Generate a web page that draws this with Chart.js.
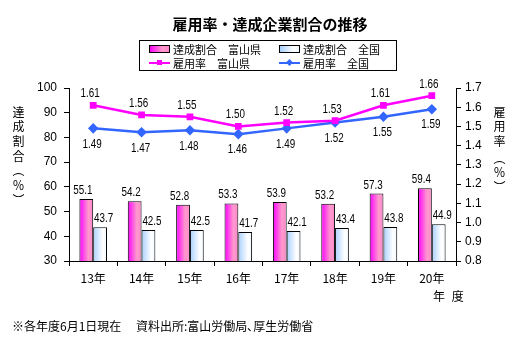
<!DOCTYPE html>
<html lang="ja">
<head>
<meta charset="utf-8">
<script src="https://cdn.jsdelivr.net/npm/chart.js@4"></script>
<style>
    body { margin: 0; background: #fff; }
    #wrap { position: relative; width: 520px; height: 350px; font-family: "Noto Sans CJK JP", sans-serif; color: #000; }
    #graph { position: absolute; left: 0; top: 0; }
    .txt { position: absolute; white-space: nowrap; line-height: 1; }
    #title { left: 0; width: 540px; top: 16px; text-align: center; font-size: 15px; font-weight: bold; }
    #legend { position: absolute; left: 139px; top: 40px; width: 256px; height: 29px; border: 1px solid #000; font-size: 11px; }
    .item { position: absolute; display: flex; align-items: center; height: 12px; }
    .box { width: 19px; height: 6px; border: 1px solid #000; margin-right: 3px; }
    .ln { position: relative; width: 21px; height: 12px; margin-right: 3px; }
    .ln i { position: absolute; left: 0; top: 5px; width: 21px; height: 2px; }
    .ln b { position: absolute; left: 8px; top: 3px; width: 5px; height: 5px; }
    .vt { writing-mode: vertical-rl; font-size: 12px; letter-spacing: 2.7px; }
</style>
</head>
<body>
<div id="wrap">
    <canvas id="graph" width="520" height="350"></canvas>
    <div class="txt" id="title">雇用率・達成企業割合の推移</div>
    <div id="legend">
        <div class="item" style="left:9px;top:2px"><div class="box" style="background:linear-gradient(90deg,#ff00ff,#ff99cc 65%,#ff88cc)"></div>達成割合　富山県</div>
        <div class="item" style="left:139px;top:2px"><div class="box" style="background:linear-gradient(90deg,#a8d0ff,#ffffff 70%,#f0f8ff)"></div>達成割合　全国</div>
        <div class="item" style="left:9px;top:16px"><div class="ln"><i style="background:#ff00ff"></i><b style="background:#ff00ff"></b></div>雇用率　富山県</div>
        <div class="item" style="left:139px;top:16px"><div class="ln"><i style="background:#3366ff"></i><b style="background:#3366ff;transform:rotate(45deg)"></b></div>雇用率　全国</div>
    </div>
    <div class="txt vt" style="left:12px;top:106px">達成割合（％）</div>
    <div class="txt vt" style="left:493px;top:106px">雇用率<span style="margin-top:2px">（％）</span></div>
    <div class="txt" style="left:433px;top:290px;font-size:12px;word-spacing:4px">年 度</div>
    <div class="txt" style="left:12px;top:320px;font-size:12px">※各年度6月1日現在　 資料出所:富山労働局､厚生労働省</div>
</div>
<script>
// DADOS
const categorias = ["13年", "14年", "15年", "16年", "17年", "18年", "19年", "20年"];
const tasaToyama = [55.1, 54.2, 52.8, 53.3, 53.9, 53.2, 57.3, 59.4];
const tasaZenkoku = [43.7, 42.5, 42.5, 41.7, 42.1, 43.4, 43.8, 44.9];
const koyoToyama = [1.61, 1.56, 1.55, 1.50, 1.52, 1.53, 1.61, 1.66];
const koyoZenkoku = [1.49, 1.47, 1.48, 1.46, 1.49, 1.52, 1.55, 1.59];
const ticksEsq = [30, 100, 10];
const ticksDir = [0.8, 1.7, 0.1];

const numFont = "\"Liberation Sans\", Arial, sans-serif";
const catPct = 0.57;

// gradiente horizontal por barra
function barGrad(c, stops, lado) {
    const chart = c.chart;
    const x = chart.scales.x;
    if (!x || !chart.chartArea) return stops[0][1];
    const cx = x.getPixelForValue(c.dataIndex);
    const bw = (x.width / categorias.length) * catPct / 2;
    const x0 = lado < 0 ? cx - bw : cx;
    const g = chart.ctx.createLinearGradient(x0, 0, x0 + bw, 0);
    stops.forEach(s => g.addColorStop(s[0], s[1]));
    return g;
}

// texto estreito (fonte original e condensada)
function texto(ctx, txt, x, y) {
    ctx.save();
    ctx.translate(x, y);
    ctx.scale(0.82, 1);
    ctx.fillText(txt, 0, 0);
    ctx.restore();
}

// ROTULOS DE VALORES
const rotulos = {
    id: "rotulos",
    afterDatasetsDraw(chart) {
        const ctx = chart.ctx;
        ctx.save();
        ctx.fillStyle = "#000";
        ctx.font = "12px " + numFont;
        ctx.textAlign = "center";
        chart.data.datasets.forEach((ds, i) => {
            const meta = chart.getDatasetMeta(i);
            meta.data.forEach((el, j) => {
                const v = ds.data[j];
                if (ds.type === "line") {
                    const txt = v.toFixed(2);
                    if (i === 2) {
                        ctx.textBaseline = "alphabetic";
                        texto(ctx, txt, el.x - 3, el.y - 8);
                    } else {
                        ctx.textBaseline = "top";
                        texto(ctx, txt, el.x - 1, el.y + 10);
                    }
                } else {
                    ctx.textBaseline = "alphabetic";
                    texto(ctx, v.toFixed(1), el.x + (i === 0 ? -3.5 : 3.5), el.y - 5);
                }
            });
        });
        ctx.restore();
    }
};

const eixo = {
    grid: { drawOnChartArea: false, color: "#000", tickColor: "#000", tickLength: 5 },
    border: { color: "#000", width: 1 },
};

const ctx = document.getElementById("graph");
new Chart(ctx, {
    data: {
        labels: categorias,
        datasets: [
            {
                type: "bar",
                label: "達成割合　富山県",
                data: tasaToyama,
                yAxisID: "y",
                order: 2,
                backgroundColor: c => barGrad(c, [[0, "#ff00ff"], [0.65, "#ff99cc"], [1, "#ff88cc"]], -1),
                borderColor: "#000",
                borderWidth: 1,
                borderSkipped: false,
                barPercentage: 1,
                categoryPercentage: catPct,
            },
            {
                type: "bar",
                label: "達成割合　全国",
                data: tasaZenkoku,
                yAxisID: "y",
                order: 2,
                backgroundColor: c => barGrad(c, [[0, "#a8d0ff"], [0.7, "#ffffff"], [1, "#f0f8ff"]], 1),
                borderColor: "#000",
                borderWidth: 1,
                borderSkipped: false,
                barPercentage: 1,
                categoryPercentage: catPct,
            },
            {
                type: "line",
                label: "雇用率　富山県",
                data: koyoToyama,
                yAxisID: "y1",
                order: 0,
                borderColor: "#ff00ff",
                backgroundColor: "#ff00ff",
                borderWidth: 2.5,
                pointStyle: "rect",
                pointRadius: 3,
                tension: 0,
            },
            {
                type: "line",
                label: "雇用率　全国",
                data: koyoZenkoku,
                yAxisID: "y1",
                order: 0,
                borderColor: "#3366ff",
                backgroundColor: "#3366ff",
                borderWidth: 2.5,
                pointStyle: "rectRot",
                pointRadius: 3.5,
                tension: 0,
            },
        ],
    },
    options: {
        responsive: false,
        animation: false,
        devicePixelRatio: 1,
        layout: { padding: { top: 88, left: 0, right: 0, bottom: 0 } },
        plugins: { legend: { display: false }, tooltip: { enabled: false } },
        scales: {
            x: {
                ...eixo,
                grid: { ...eixo.grid, offset: true },
                ticks: { color: "#000", padding: 5, font: { size: 12, family: "\"Noto Sans CJK JP\", sans-serif" } },
                afterFit: s => { s.height = 89; },
            },
            y: {
                ...eixo,
                position: "left",
                min: ticksEsq[0],
                max: ticksEsq[1],
                ticks: { stepSize: ticksEsq[2], color: "#000", padding: 7, font: { size: 12, family: numFont } },
                afterFit: s => { s.width = 69; },
            },
            y1: {
                ...eixo,
                position: "right",
                min: ticksDir[0],
                max: ticksDir[1],
                ticks: { stepSize: ticksDir[2], color: "#000", padding: 4, font: { size: 12, family: numFont }, callback: v => Number(v).toFixed(1) },
                afterFit: s => { s.width = 64; },
            },
        },
    },
    plugins: [rotulos],
});
</script>
</body>
</html>
